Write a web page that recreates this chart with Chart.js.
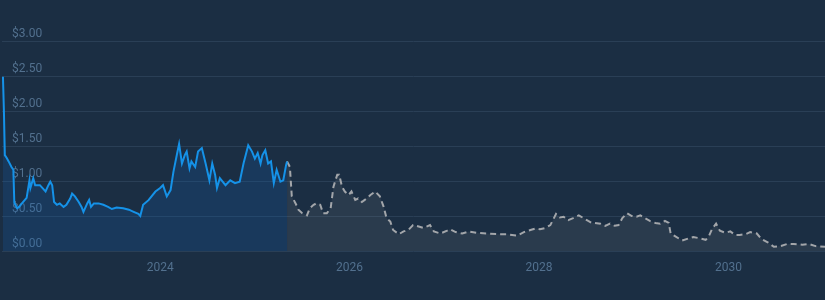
<!DOCTYPE html>
<html>
<head>
<meta charset="utf-8">
<script src="https://cdn.jsdelivr.net/npm/chart.js@4"></script>
<style>
  html, body { margin: 0; padding: 0; background: #1b2e43; }
  #priceChart { display: block; }
</style>
</head>
<body>
<canvas id="priceChart" width="825" height="300"></canvas>
<script>
// price history (decimal year, USD)
const histYears = [2022.34, 2022.35, 2022.36, 2022.38, 2022.40, 2022.43, 2022.45, 2022.46, 2022.49, 2022.51,
  2022.54, 2022.59, 2022.62, 2022.63, 2022.66, 2022.68, 2022.73, 2022.79, 2022.82, 2022.84,
  2022.86, 2022.88, 2022.91, 2022.94, 2022.98, 2023.01, 2023.05, 2023.07, 2023.10, 2023.14,
  2023.17, 2023.19, 2023.23, 2023.25, 2023.27, 2023.30, 2023.35, 2023.40, 2023.45, 2023.49,
  2023.54, 2023.61, 2023.67, 2023.72, 2023.77, 2023.79, 2023.82, 2023.88, 2023.89, 2023.95,
  2024.00, 2024.03, 2024.07, 2024.11, 2024.14, 2024.18, 2024.20, 2024.23, 2024.26, 2024.28,
  2024.31, 2024.33, 2024.37, 2024.40, 2024.44, 2024.48, 2024.52, 2024.55, 2024.58, 2024.60,
  2024.63, 2024.69, 2024.74, 2024.79, 2024.84, 2024.88, 2024.93, 2024.97, 2025.00, 2025.03,
  2025.06, 2025.08, 2025.11, 2025.14, 2025.17, 2025.20, 2025.23, 2025.27, 2025.30, 2025.33,
  2025.34];
const histPrices = [2.49, 2.01, 1.37, 1.33, 1.28, 1.20, 1.16, 0.69, 0.61, 0.63,
  0.68, 0.76, 1.01, 0.90, 1.04, 0.94, 0.94, 0.85, 0.94, 0.99,
  0.94, 0.70, 0.66, 0.68, 0.63, 0.66, 0.75, 0.82, 0.78, 0.70,
  0.63, 0.56, 0.68, 0.73, 0.63, 0.68, 0.68, 0.66, 0.63, 0.60,
  0.62, 0.61, 0.59, 0.56, 0.53, 0.50, 0.66, 0.73, 0.75, 0.85,
  0.90, 0.94, 0.78, 0.87, 1.13, 1.40, 1.53, 1.25, 1.37, 1.42,
  1.18, 1.28, 1.20, 1.42, 1.47, 1.25, 1.01, 1.25, 1.09, 0.90,
  1.04, 0.94, 1.01, 0.97, 0.99, 1.25, 1.51, 1.42, 1.32, 1.40,
  1.25, 1.37, 1.44, 1.25, 1.28, 0.97, 1.16, 0.99, 1.01, 1.23,
  1.28];

// forecast (decimal year, USD)
const fcYears = [2025.34, 2025.37, 2025.39, 2025.43, 2025.46, 2025.50, 2025.55, 2025.58, 2025.62, 2025.65,
  2025.69, 2025.72, 2025.76, 2025.80, 2025.83, 2025.87, 2025.89, 2025.92, 2025.95, 2025.99,
  2026.02, 2026.06, 2026.09, 2026.13, 2026.16, 2026.22, 2026.27, 2026.32, 2026.36, 2026.39,
  2026.43, 2026.46, 2026.52, 2026.57, 2026.62, 2026.67, 2026.73, 2026.78, 2026.85, 2026.89,
  2026.96, 2027.03, 2027.06, 2027.12, 2027.19, 2027.26, 2027.34, 2027.45, 2027.56, 2027.66,
  2027.77, 2027.84, 2027.91, 2027.96, 2028.01, 2028.07, 2028.12, 2028.18, 2028.22, 2028.26,
  2028.31, 2028.36, 2028.42, 2028.47, 2028.52, 2028.56, 2028.59, 2028.65, 2028.70, 2028.75,
  2028.80, 2028.84, 2028.88, 2028.93, 2028.98, 2029.03, 2029.07, 2029.12, 2029.17, 2029.23,
  2029.28, 2029.33, 2029.37, 2029.39, 2029.44, 2029.51, 2029.58, 2029.63, 2029.70, 2029.76,
  2029.79, 2029.83, 2029.87, 2029.91, 2029.97, 2030.02, 2030.07, 2030.12, 2030.18, 2030.23,
  2030.30, 2030.35, 2030.42, 2030.48, 2030.55, 2030.62, 2030.69, 2030.78, 2030.85, 2030.92,
  2031.02];
const fcPrices = [1.28, 1.20, 0.78, 0.68, 0.59, 0.54, 0.51, 0.61, 0.66, 0.68,
  0.66, 0.54, 0.54, 0.61, 0.92, 1.09, 1.09, 0.92, 0.85, 0.80,
  0.85, 0.73, 0.75, 0.70, 0.73, 0.80, 0.85, 0.78, 0.63, 0.47,
  0.42, 0.30, 0.24, 0.28, 0.30, 0.37, 0.35, 0.33, 0.37, 0.28,
  0.25, 0.29, 0.31, 0.27, 0.25, 0.28, 0.26, 0.25, 0.24, 0.24,
  0.22, 0.27, 0.30, 0.32, 0.31, 0.33, 0.37, 0.53, 0.48, 0.49,
  0.44, 0.47, 0.51, 0.47, 0.43, 0.40, 0.40, 0.39, 0.36, 0.39,
  0.36, 0.37, 0.47, 0.54, 0.50, 0.49, 0.51, 0.47, 0.43, 0.40,
  0.39, 0.43, 0.40, 0.25, 0.21, 0.15, 0.18, 0.20, 0.18, 0.16,
  0.20, 0.32, 0.39, 0.29, 0.26, 0.28, 0.23, 0.23, 0.24, 0.27,
  0.25, 0.17, 0.12, 0.06, 0.07, 0.10, 0.10, 0.09, 0.10, 0.07,
  0.06];

const yTicks = [0, 0.5, 1, 1.5, 2, 2.5, 3];
const xTickYears = [2024, 2026, 2028, 2030];

const toPoints = (xs, ys) => xs.map((x, i) => ({ x: x, y: ys[i] }));

const labelColor = '#52708e';
const gridColor = '#2a3f56';

new Chart(document.getElementById('priceChart'), {
  type: 'line',
  data: {
    datasets: [{
      label: 'history',
      data: toPoints(histYears, histPrices),
      borderColor: '#1592e8',
      borderWidth: 2,
      backgroundColor: 'rgba(20,100,180,0.22)',
      fill: 'origin',
      pointRadius: 0,
      tension: 0
    }, {
      label: 'forecast',
      data: toPoints(fcYears, fcPrices),
      borderColor: '#a3a6aa',
      borderWidth: 2,
      borderDash: [6, 4],
      backgroundColor: 'rgba(160,160,160,0.12)',
      fill: 'origin',
      pointRadius: 0,
      tension: 0
    }]
  },
  options: {
    responsive: false,
    animation: false,
    layout: { padding: { top: 41, left: 0, right: 0, bottom: 0 } },
    plugins: {
      legend: { display: false },
      tooltip: { enabled: false }
    },
    scales: {
      x: {
        type: 'linear',
        min: 2022.33,
        max: 2031.02,
        afterFit: (scale) => { scale.height = 49; },
        afterBuildTicks: (scale) => { scale.ticks = xTickYears.map(v => ({ value: v })); },
        grid: { display: false, drawTicks: false },
        border: { display: false },
        ticks: {
          padding: 10,
          color: labelColor,
          font: { family: 'Roboto', size: 12 },
          callback: (v) => String(v)
        }
      },
      y: {
        min: 0,
        max: 3,
        afterFit: (scale) => { scale.width = 2; },
        afterBuildTicks: (scale) => { scale.ticks = yTicks.map(v => ({ value: v })); },
        grid: { color: gridColor, lineWidth: 1, drawTicks: false },
        border: { display: false },
        ticks: {
          mirror: true,
          padding: 10,
          labelOffset: -7,
          color: labelColor,
          font: { family: 'Roboto', size: 12 },
          callback: (v) => '$' + v.toFixed(2)
        }
      }
    }
  }
});
</script>
</body>
</html>
